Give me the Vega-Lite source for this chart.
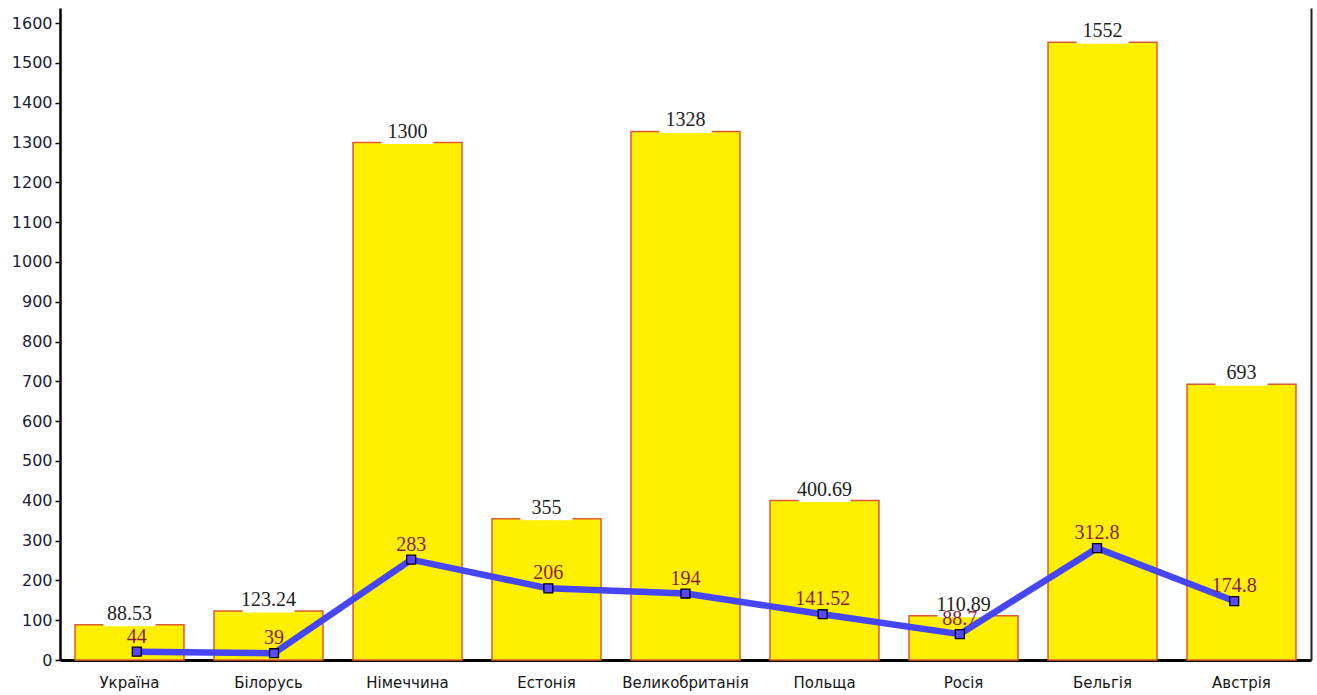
{
  "$schema": "https://vega.github.io/schema/vega-lite/v6.json",
  "width": 1251,
  "height": 652,
  "autosize": {"type": "none"},
  "padding": {"left": 60, "top": 8, "right": 6, "bottom": 35},
  "background": "white",
  "config": {"view": {"stroke": null}},
  "data": {
    "values": [
      {"country": "Україна", "bar": 88.53, "linePos": 21, "lineLabel": "44"},
      {"country": "Білорусь", "bar": 123.24, "linePos": 17, "lineLabel": "39"},
      {"country": "Німеччина", "bar": 1300, "linePos": 252, "lineLabel": "283"},
      {"country": "Естонія", "bar": 355, "linePos": 180, "lineLabel": "206"},
      {"country": "Великобританія", "bar": 1328, "linePos": 167, "lineLabel": "194"},
      {"country": "Польща", "bar": 400.69, "linePos": 115, "lineLabel": "141.52"},
      {"country": "Росія", "bar": 110.89, "linePos": 65, "lineLabel": "88.7"},
      {"country": "Бельгія", "bar": 1552, "linePos": 281, "lineLabel": "312.8"},
      {"country": "Австрія", "bar": 693, "linePos": 148, "lineLabel": "174.8"}
    ]
  },
  "resolve": {"scale": {"x": "independent"}, "axis": {"y": "independent"}},
  "layer": [
    {
      "encoding": {
        "x": {
          "field": "country",
          "type": "nominal",
          "sort": null,
          "scale": {"type": "band", "paddingInner": 0.216, "paddingOuter": 0.108},
          "axis": {
            "title": null,
            "labelAngle": 0,
            "ticks": false,
            "tickSize": 0,
            "labelPadding": 15,
            "labelFont": "DejaVu Sans",
            "labelFontSize": 15,
            "labelColor": "#151515",
            "domainColor": "#000000",
            "domainWidth": 3,
            "grid": false
          }
        }
      },
      "layer": [
        {
          "mark": {"type": "bar", "fill": "#FFEF00", "stroke": "#DD5A32", "strokeWidth": 1.5},
          "encoding": {
            "y": {
              "field": "bar",
              "type": "quantitative",
              "scale": {"domain": [0, 1638], "nice": false, "zero": true},
              "axis": {
                "title": null,
                "orient": "left",
                "format": "d",
                "values": [0, 100, 200, 300, 400, 500, 600, 700, 800, 900, 1000, 1100, 1200, 1300, 1400, 1500, 1600],
                "labelFont": "DejaVu Sans",
                "labelFontSize": 16,
                "labelColor": "#1c1c3a",
                "labelPadding": 3,
                "tickSize": 5,
                "tickWidth": 1.5,
                "tickColor": "#000000",
                "domainColor": "#000000",
                "domainWidth": 2.5,
                "grid": false
              }
            }
          }
        },
        {
          "mark": {"type": "tick", "color": "white", "size": 52, "thickness": 3, "opacity": 1},
          "encoding": {
            "y": {"field": "bar", "type": "quantitative"}
          }
        },
        {
          "mark": {"type": "text", "font": "Liberation Serif", "fontSize": 20, "color": "#1e1e1e", "baseline": "alphabetic", "dy": -5},
          "encoding": {
            "y": {"field": "bar", "type": "quantitative"},
            "text": {"field": "bar", "type": "quantitative", "format": "~f"}
          }
        }
      ]
    },
    {
      "encoding": {
        "x": {
          "field": "country",
          "type": "nominal",
          "sort": null,
          "scale": {"type": "point", "padding": 0.56},
          "axis": null
        }
      },
      "layer": [
        {
          "mark": {"type": "line", "color": "#4646F8", "strokeWidth": 6.5},
          "encoding": {
            "y": {
              "field": "linePos",
              "type": "quantitative",
              "axis": {
                "title": null,
                "orient": "right",
                "labels": false,
                "ticks": false,
                "grid": false,
                "domainColor": "#222222",
                "domainWidth": 2
              }
            }
          }
        },
        {
          "mark": {"type": "point", "shape": "square", "size": 80, "filled": true, "fill": "#5A48FF", "stroke": "#000000", "strokeWidth": 1.3, "opacity": 1},
          "encoding": {
            "y": {"field": "linePos", "type": "quantitative"}
          }
        },
        {
          "mark": {"type": "text", "font": "Liberation Serif", "fontSize": 20, "color": "#8A1C3C", "baseline": "alphabetic", "dy": -9},
          "encoding": {
            "y": {"field": "linePos", "type": "quantitative"},
            "text": {"field": "lineLabel", "type": "nominal"}
          }
        }
      ]
    }
  ]
}
